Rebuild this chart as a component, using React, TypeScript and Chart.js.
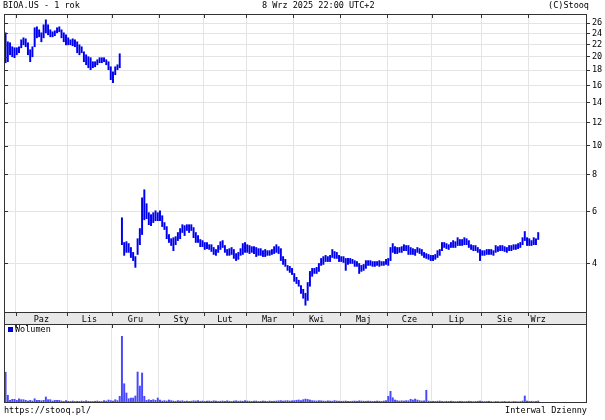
import React, { useEffect, useRef } from 'react';
import { Chart, registerables } from 'chart.js';
Chart.register(...registerables);

const FONT = '"DejaVu Sans Mono", monospace';

const monthNames = ['Paz', 'Lis', 'Gru', 'Sty', 'Lut', 'Mar', 'Kwi', 'Maj', 'Cze', 'Lip', 'Sie', 'Wrz'];
const monthStarts = [4.5, 27.5, 47.5, 68.5, 88.5, 107.5, 128.5, 149.5, 170.5, 190.5, 212.5, 233.5];
const monthLabelPos = [16, 37.5, 58, 78.5, 98, 118, 139, 160, 180.5, 201.5, 223, 238];
const priceTicks = [4, 6, 8, 10, 12, 14, 16, 18, 20, 22, 24, 26];

const priceHigh = [
  24.10, 22.47, 22.30, 21.62, 21.45, 21.45, 21.62, 22.82, 23.18, 23.00,
  22.30, 21.12, 21.62, 25.06, 25.25, 24.67, 24.10, 25.65, 26.66, 25.65,
  24.67, 24.29, 24.48, 25.06, 25.25, 24.67, 24.10, 23.73, 23.18, 22.82,
  23.00, 22.82, 22.47, 21.95, 21.62, 20.79, 20.31, 20.00, 19.85, 19.24,
  19.24, 19.54, 19.85, 19.85, 19.85, 19.54, 19.24, 18.50, 17.80, 18.50,
  18.79, 20.47,
  5.71, 4.71, 4.74, 4.67, 4.53, 4.36, 4.22, 4.85,
  5.25, 6.67, 7.10, 6.37, 5.94, 5.85, 5.94, 6.03, 5.94, 6.03,
  5.80, 5.50, 5.33, 5.01, 4.85, 4.89, 4.93, 5.09, 5.25, 5.41,
  5.37, 5.41, 5.41, 5.41, 5.29, 5.09, 4.97, 4.82, 4.78, 4.71,
  4.71, 4.63, 4.63, 4.53, 4.46, 4.60, 4.74, 4.78, 4.60, 4.46,
  4.49, 4.53, 4.46, 4.32, 4.36, 4.49, 4.67, 4.71, 4.63, 4.60,
  4.56, 4.56, 4.53, 4.49, 4.49, 4.42, 4.46, 4.42, 4.42, 4.46,
  4.56, 4.63, 4.56, 4.49, 4.22, 4.13, 3.94, 3.91, 3.85, 3.70,
  3.59, 3.51, 3.37, 3.27, 3.17, 3.45, 3.76, 3.85, 3.85, 3.88,
  4.00, 4.16, 4.22, 4.26, 4.22, 4.26, 4.46, 4.39, 4.36, 4.26,
  4.22, 4.22, 4.16, 4.16, 4.16, 4.13, 4.09, 4.06, 4.00, 3.94,
  3.97, 4.09, 4.09, 4.09, 4.06, 4.06, 4.06, 4.09, 4.06, 4.06,
  4.13, 4.16, 4.53, 4.67, 4.56, 4.53, 4.53, 4.56, 4.63, 4.60,
  4.60, 4.53, 4.49, 4.46, 4.53, 4.49, 4.46, 4.36, 4.32, 4.29,
  4.26, 4.26, 4.29, 4.42, 4.46, 4.71, 4.71, 4.67, 4.63, 4.71,
  4.78, 4.74, 4.89, 4.82, 4.82, 4.89, 4.85, 4.78, 4.63, 4.60,
  4.60, 4.53, 4.46, 4.42, 4.42, 4.46, 4.46, 4.46, 4.42, 4.60,
  4.56, 4.60, 4.60, 4.56, 4.53, 4.60, 4.60, 4.63, 4.63, 4.67,
  4.71, 4.89, 5.13, 4.89, 4.85, 4.78, 4.89, 4.85, 5.09,
];

const priceLow = [
  19.09, 19.24, 20.31, 20.00, 19.85, 20.31, 20.63, 21.45, 21.95, 21.62,
  20.31, 19.24, 20.00, 21.62, 23.18, 23.36, 22.47, 23.18, 24.10, 23.73,
  23.36, 23.36, 23.55, 24.10, 24.29, 23.18, 22.47, 21.95, 21.95, 21.95,
  21.78, 21.62, 20.63, 20.31, 20.63, 19.24, 18.79, 18.36, 18.08, 18.36,
  18.50, 18.79, 19.09, 19.09, 19.24, 18.79, 18.08, 16.73, 16.34, 17.39,
  18.08, 18.36,
  4.63, 4.26, 4.36, 4.36, 4.19, 4.09, 3.88, 4.29,
  4.63, 5.01, 5.62, 5.67, 5.41, 5.37, 5.50, 5.58, 5.58, 5.58,
  5.33, 5.21, 4.85, 4.71, 4.60, 4.42, 4.63, 4.78, 4.85, 5.09,
  4.97, 5.17, 5.09, 5.17, 4.89, 4.71, 4.71, 4.56, 4.56, 4.46,
  4.49, 4.46, 4.39, 4.29, 4.26, 4.36, 4.46, 4.53, 4.36, 4.26,
  4.26, 4.29, 4.16, 4.09, 4.13, 4.26, 4.29, 4.36, 4.36, 4.32,
  4.36, 4.32, 4.22, 4.26, 4.26, 4.22, 4.22, 4.26, 4.26, 4.29,
  4.32, 4.36, 4.32, 4.09, 3.97, 3.91, 3.79, 3.73, 3.67, 3.48,
  3.42, 3.35, 3.17, 3.05, 2.89, 3.00, 3.35, 3.62, 3.70, 3.70,
  3.76, 3.94, 3.97, 4.06, 4.06, 4.06, 4.19, 4.16, 4.16, 4.06,
  4.06, 4.03, 3.79, 3.97, 4.00, 4.00, 3.91, 3.91, 3.70, 3.76,
  3.79, 3.85, 3.94, 3.94, 3.91, 3.91, 3.94, 3.91, 3.94, 3.94,
  3.97, 3.94, 4.09, 4.36, 4.32, 4.32, 4.36, 4.36, 4.42, 4.42,
  4.29, 4.29, 4.29, 4.26, 4.36, 4.32, 4.26, 4.19, 4.16, 4.13,
  4.09, 4.09, 4.13, 4.19, 4.26, 4.42, 4.53, 4.49, 4.46, 4.53,
  4.53, 4.53, 4.60, 4.60, 4.60, 4.63, 4.63, 4.53, 4.46, 4.42,
  4.42, 4.36, 4.09, 4.26, 4.26, 4.29, 4.29, 4.29, 4.26, 4.36,
  4.39, 4.42, 4.42, 4.39, 4.36, 4.42, 4.42, 4.46, 4.46, 4.49,
  4.53, 4.63, 4.78, 4.60, 4.60, 4.60, 4.63, 4.63, 4.82,
];

// volume in thousands of shares
const volume = [
  3900, 980, 340, 470, 470, 340, 540, 420, 420, 340,
  250, 340, 250, 540, 340, 340, 290, 340, 760, 420,
  420, 250, 340, 340, 340,
  250, 200, 300, 220, 200, 250, 180, 220, 200, 250,
  200, 280, 220, 200, 180, 220, 250, 200, 180, 300,
  250, 380, 300, 250, 420,
  300, 850,
  8440, 2440, 1270, 540, 630, 630, 890, 3920, 2150, 3800,
  850, 340, 420, 340, 420, 340, 630, 380, 250,
  300, 250, 380, 300, 250, 220, 300, 250, 280, 220,
  250, 200, 230, 280, 250, 300, 220, 250, 200, 230,
  250, 220, 280, 250, 200, 230, 250, 220, 280, 230,
  200, 250, 280, 230, 250, 220, 300, 250, 230, 200,
  230, 250, 200, 220, 250, 230, 200, 250, 220, 230,
  250, 280, 300, 250, 280, 300, 250, 280, 300, 350,
  380, 300, 420, 500, 450, 380, 300, 280, 250, 300,
  280, 250, 230, 280, 250, 230, 300, 250, 230, 220,
  230, 250, 220, 200, 230, 250, 220, 280, 250, 230,
  220, 250, 230, 200, 220, 250, 230, 200, 250, 300,
  850, 1480, 670, 380, 300, 250, 280, 250, 300, 280,
  470, 380, 500, 380, 300, 250, 280, 1610, 250, 200,
  220, 200, 230, 250, 200, 180, 220, 200, 230, 200,
  180, 200, 220, 200, 180, 200, 230, 200, 180, 200,
  220, 250, 200, 180, 200, 220, 180, 150, 200, 180,
  150, 180, 200, 150, 180, 150, 200, 180, 150, 180, 250,
  890, 250, 200, 220, 180, 200, 250,
];

const X_MIN = -0.7;
const X_MAX = 259.8;
const GRID = '#e4e4e4';
const FRAME = '#333333';

const decorPlugin = {
  id: 'decor',
  beforeDraw(chart: any, _a: any, opts: any) {
    const { ctx, chartArea: a } = chart;
    if (opts.strip) {
      ctx.save();
      ctx.fillStyle = '#e8e8e8';
      ctx.fillRect(a.left, a.bottom, a.right - a.left, opts.strip);
      ctx.restore();
    }
  },
  afterDraw(chart: any, _a: any, opts: any) {
    const { ctx, chartArea: a, scales } = chart;
    ctx.save();
    ctx.strokeStyle = FRAME;
    ctx.lineWidth = 1;
    const L = Math.round(a.left) + 0.5;
    const R = Math.round(a.right) - 0.5;
    const T = Math.round(a.top) + 0.5;
    const B = Math.round(a.bottom) - 0.5;
    ctx.strokeRect(L, T, R - L, B - T);
    ctx.beginPath();
    for (const v of monthStarts) {
      const px = Math.round(scales.x.getPixelForValue(v)) + 0.5;
      ctx.moveTo(px, a.top);
      ctx.lineTo(px, a.top + 4);
      if (opts.strip) {
        ctx.moveTo(px, a.bottom);
        ctx.lineTo(px, a.bottom + 3);
      }
    }
    if (opts.leftTicks) {
      for (const v of priceTicks) {
        const py = Math.round(scales.y.getPixelForValue(v)) + 0.5;
        ctx.moveTo(a.left, py);
        ctx.lineTo(a.left + 4, py);
      }
    }
    if (opts.strip) {
      ctx.moveTo(L, a.bottom);
      ctx.lineTo(L, a.bottom + opts.strip);
      ctx.moveTo(R, a.bottom);
      ctx.lineTo(R, a.bottom + opts.strip);
    }
    ctx.stroke();
    ctx.restore();
  },
};

const textStyle: React.CSSProperties = {
  position: 'absolute',
  fontFamily: FONT,
  fontSize: '8.5px',
  lineHeight: '10px',
  color: '#000',
  whiteSpace: 'pre',
};

export default function App() {
  const priceRef = useRef<HTMLCanvasElement>(null);
  const volRef = useRef<HTMLCanvasElement>(null);

  useEffect(() => {
    const days = priceHigh.map((_, i) => i);
    const priceData = days.map((i) => ({ x: i, y: [priceLow[i], priceHigh[i]] }));
    const volData = days.map((i) => ({ x: i, y: volume[i] }));

    const gridX = () => ({
      type: 'linear' as const,
      min: X_MIN,
      max: X_MAX,
      offset: false,
      afterBuildTicks: (s: any) => {
        s.ticks = monthStarts.map((v) => ({ value: v }));
      },
      afterFit: (s: any) => {
        s.height = 0;
      },
      ticks: { display: false },
      grid: { color: GRID, drawTicks: false, offset: false },
      border: { display: false },
    });

    const priceChart = new Chart(priceRef.current as HTMLCanvasElement, {
      type: 'bar',
      data: {
        datasets: [
          {
            data: priceData as any,
            backgroundColor: '#0000f0',
            borderWidth: 0,
            barThickness: 1.3,
            xAxisID: 'x',
            yAxisID: 'y',
          },
        ],
      },
      options: {
        animation: false,
        responsive: false,
        devicePixelRatio: 1,
        layout: { padding: { left: 4, top: 14, right: 0, bottom: 2 } },
        plugins: {
          legend: { display: false },
          tooltip: { enabled: false },
          decor: { strip: 11, leftTicks: true },
        } as any,
        scales: {
          x: gridX() as any,
          xl: {
            type: 'linear',
            position: 'bottom',
            min: X_MIN,
            max: X_MAX,
            offset: false,
            afterBuildTicks: (s: any) => {
              s.ticks = monthLabelPos.map((v) => ({ value: v }));
            },
            afterFit: (s: any) => {
              s.height = 11;
            },
            ticks: {
              autoSkip: false,
              maxRotation: 0,
              padding: 2,
              color: '#000',
              font: { family: FONT, size: 8.5 },
              callback: (_v: any, idx: number) => monthNames[idx],
            },
            grid: { display: false, drawTicks: false, offset: false },
            border: { display: false },
          } as any,
          y: {
            type: 'logarithmic',
            position: 'right',
            min: 2.72,
            max: 27.9,
            afterBuildTicks: (s: any) => {
              s.ticks = priceTicks.map((v) => ({ value: v }));
            },
            afterFit: (s: any) => {
              s.width = 18;
            },
            ticks: {
              autoSkip: false,
              padding: 2,
              color: '#000',
              font: { family: FONT, size: 8.5 },
              callback: (v: any) => String(v),
            },
            grid: { color: GRID, tickLength: 3, tickColor: FRAME, drawTicks: true },
            border: { display: false },
          } as any,
        },
      },
      plugins: [decorPlugin as any],
    });

    const volChart = new Chart(volRef.current as HTMLCanvasElement, {
      type: 'bar',
      data: {
        datasets: [
          {
            data: volData as any,
            backgroundColor: '#4848ff',
            borderWidth: 0,
            barThickness: 1.3,
            xAxisID: 'x',
            yAxisID: 'y',
          },
        ],
      },
      options: {
        animation: false,
        responsive: false,
        devicePixelRatio: 1,
        layout: { padding: { left: 4, top: 6, right: 18, bottom: 7 } },
        plugins: {
          legend: { display: false },
          tooltip: { enabled: false },
          decor: { strip: 0, leftTicks: false },
        } as any,
        scales: {
          x: gridX() as any,
          y: { type: 'linear', display: false, min: 0, max: 10000 } as any,
        },
      },
      plugins: [decorPlugin as any],
    });

    return () => {
      priceChart.destroy();
      volChart.destroy();
    };
  }, []);

  return (
    <div
      style={{
        position: 'absolute',
        left: 0,
        top: 0,
        width: 605,
        height: 420,
        background: '#fff',
        overflow: 'hidden',
      }}
    >
      <canvas
        ref={priceRef}
        width={605}
        height={326}
        style={{ position: 'absolute', left: 0, top: 0, width: 605, height: 326 }}
      />
      <canvas
        ref={volRef}
        width={605}
        height={92}
        style={{ position: 'absolute', left: 0, top: 318, width: 605, height: 92 }}
      />
      <div style={{ ...textStyle, left: 3, top: 0 }}>BIOA.US - 1 rok</div>
      <div style={{ ...textStyle, left: 262, top: 0 }}>8 Wrz 2025 22:00 UTC+2</div>
      <div style={{ ...textStyle, right: 16, top: 0 }}>(C)Stooq</div>
      <div style={{ position: 'absolute', left: 8, top: 327, width: 5, height: 5, background: '#0000cc' }} />
      <div style={{ ...textStyle, left: 15, top: 324 }}>Wolumen</div>
      <div style={{ ...textStyle, left: 4, top: 405 }}>https://stooq.pl/</div>
      <div style={{ ...textStyle, right: 18, top: 405 }}>Interwal Dzienny</div>
    </div>
  );
}
